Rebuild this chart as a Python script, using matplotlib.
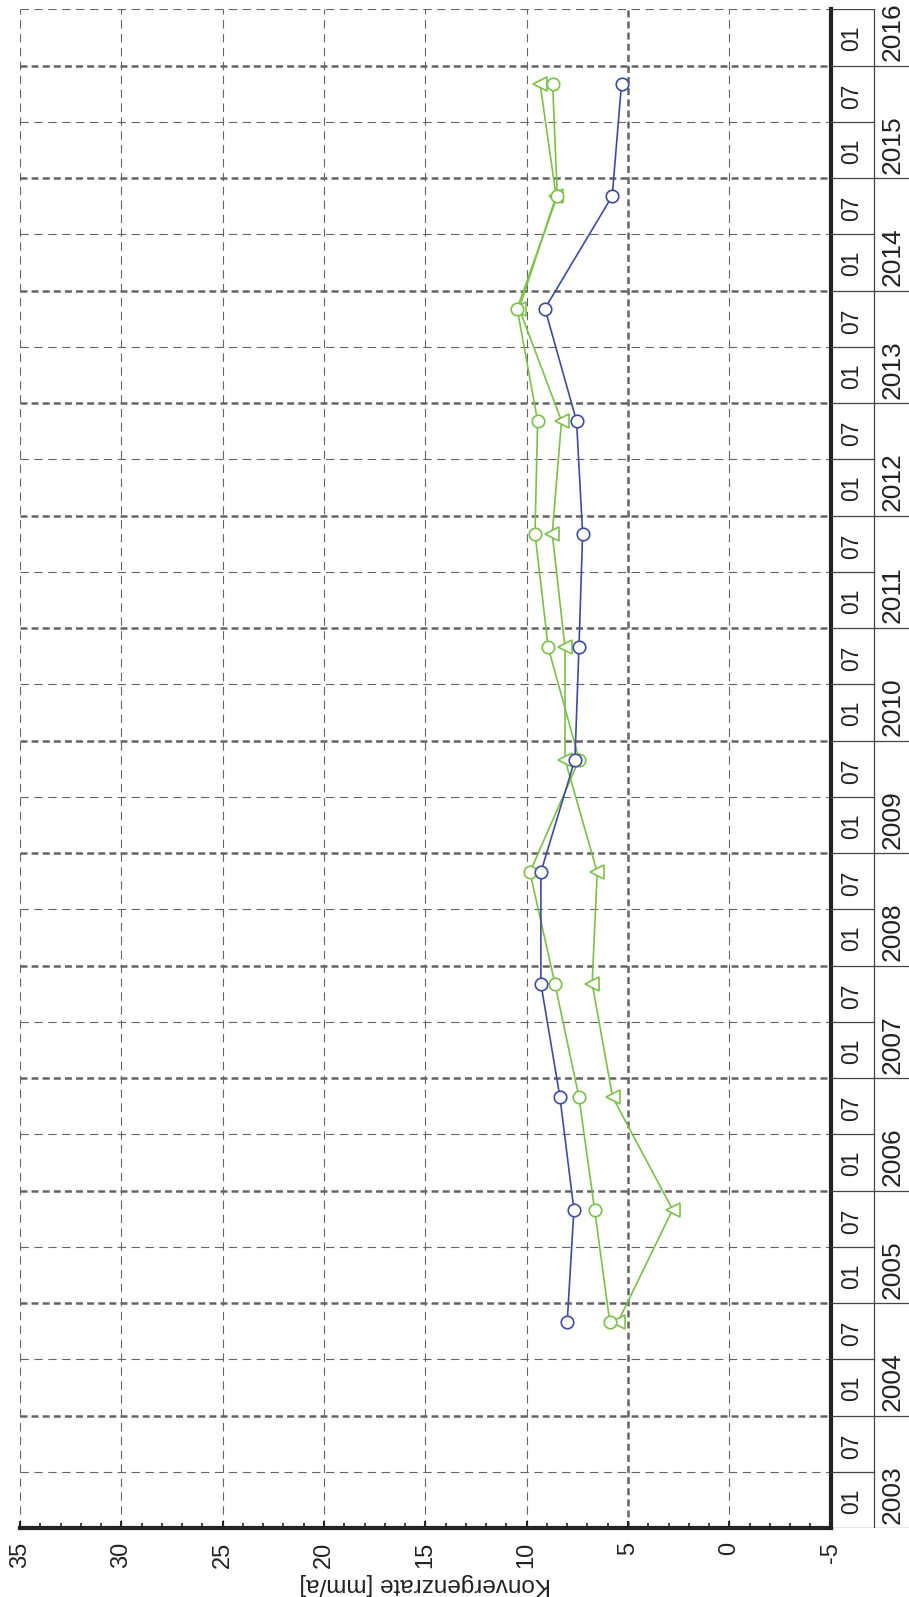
import numpy as np
import matplotlib
matplotlib.use("Agg")
import matplotlib.pyplot as plt

plt.rcParams['font.family'] = ['Liberation Sans', 'DejaVu Sans']
plt.rcParams['axes.unicode_minus'] = False
plt.rcParams['lines.scale_dashes'] = False

# measurement dates (decimal years) and convergence rates [mm/a]
times = [2004.83, 2005.83, 2006.83, 2007.84, 2008.83, 2009.83,
         2010.83, 2011.84, 2012.84, 2013.84, 2014.84, 2015.84]
rate_blue = [8.0, 7.67, 8.36, 9.30, 9.30, 7.62, 7.42, 7.24, 7.54, 9.10, 5.78, 5.32]
rate_green_circle = [5.9, 6.65, 7.42, 8.61, 9.84, 7.41, 8.94, 9.59, 9.46, 10.47, 8.49, 8.72]
rate_green_tri = [5.5, 2.8, 5.76, 6.77, 6.52, 8.11, 8.11, 8.74, 8.28, 10.37, 8.55, 9.34]

rate_ticks = [35, 30, 25, 20, 15, 10, 5, 0, -5]
rate_labels = ['35', '30', '25', '20', '15', '10', '5', '0', '-5']
years = list(range(2003, 2017))
t_start, t_end = 2003.0, 2016.5

W, H = 909, 1597
fig = plt.figure(figsize=(W / 100, H / 100), dpi=100)

x0, x1 = 20, 830.7
y_top, y_bot = 9.3, 1528
ax = fig.add_axes([x0 / W, (H - y_bot) / H, (x1 - x0) / W, (y_bot - y_top) / H])
ax.set_xlim(35, -5)
ax.set_ylim(t_start, t_end)

grid_col = '#646464'
light = dict(color=grid_col, lw=0.8, dashes=(6, 4), zorder=1)
heavy = dict(color=grid_col, lw=1.8, dashes=(5, 3), zorder=1)

# vertical grid (rate)
for r in rate_ticks[:-1]:
    ax.axvline(r, **(heavy if r == 5 else light))
# horizontal grid (time): Jan heavy, Jul light
for y in years:
    if y > t_start:
        ax.axhline(y, **heavy)
    ax.axhline(y + 0.5, **light)

blue = '#3f4c9e'
green = '#7cc04a'
ax.plot(rate_green_tri, times, color=green, lw=1.2, marker='<', ms=10,
        mfc='white', mec=green, mew=1.2, zorder=3)
ax.plot(rate_green_circle, times, color=green, lw=1.2, marker='o', ms=9,
        mfc='white', mec=green, mew=1.2, zorder=3)
ax.plot(rate_blue, times, color=blue, lw=1.2, marker='o', ms=9,
        mfc='white', mec=blue, mew=1.2, zorder=4)

for s in ['left', 'top']:
    ax.spines[s].set_visible(False)
ax.spines['bottom'].set_linewidth(3)
ax.spines['bottom'].set_color('#222222')
ax.spines['right'].set_linewidth(3)
ax.spines['right'].set_color('#222222')

ax.set_xticks(rate_ticks)
ax.set_xticklabels(rate_labels, rotation=90, fontsize=17, color='#222222')
ax.set_xticks(np.arange(-5, 36, 1), minor=True)
ax.tick_params(axis='x', which='major', direction='in', length=5, width=1.5,
               pad=10, color='#222222')
ax.tick_params(axis='x', which='minor', direction='in', length=3.5, width=1.2,
               color='#222222')
ax.set_yticks([])

fig.text(((x0 + x1) / 2) / W, (H - 1584) / H, 'Konvergenzrate [mm/a]',
         rotation=180, ha='center', va='center', fontsize=17.5, color='#222222')

# date table on the right
tax = fig.add_axes([x1 / W, (H - y_bot) / H, (W - x1) / W, (y_bot - y_top) / H])
tax.set_xlim(x1, W)
tax.set_ylim(t_start, t_end)
tax.axis('off')
sep = 874.3
tcol = '#444444'
tax.plot([sep, sep], [t_start, t_end], color=tcol, lw=0.9)
for y in years:
    tax.plot([x1, W], [y, y], color=tcol, lw=0.9)
    tax.plot([x1, sep], [y + 0.5, y + 0.5], color=tcol, lw=0.9)
    tax.text(851.5, y + 0.24, '01', rotation=90, ha='center', va='center',
             fontsize=16.5, color='#222222')
    if y + 0.5 < t_end:
        tax.text(851.5, y + 0.73, '07', rotation=90, ha='center', va='center',
                 fontsize=16.5, color='#222222')
    tax.text(892.5, y + 0.3, str(y), rotation=90, ha='center', va='center',
             fontsize=19, color='#222222')

fig.savefig('out.png', dpi=100)
